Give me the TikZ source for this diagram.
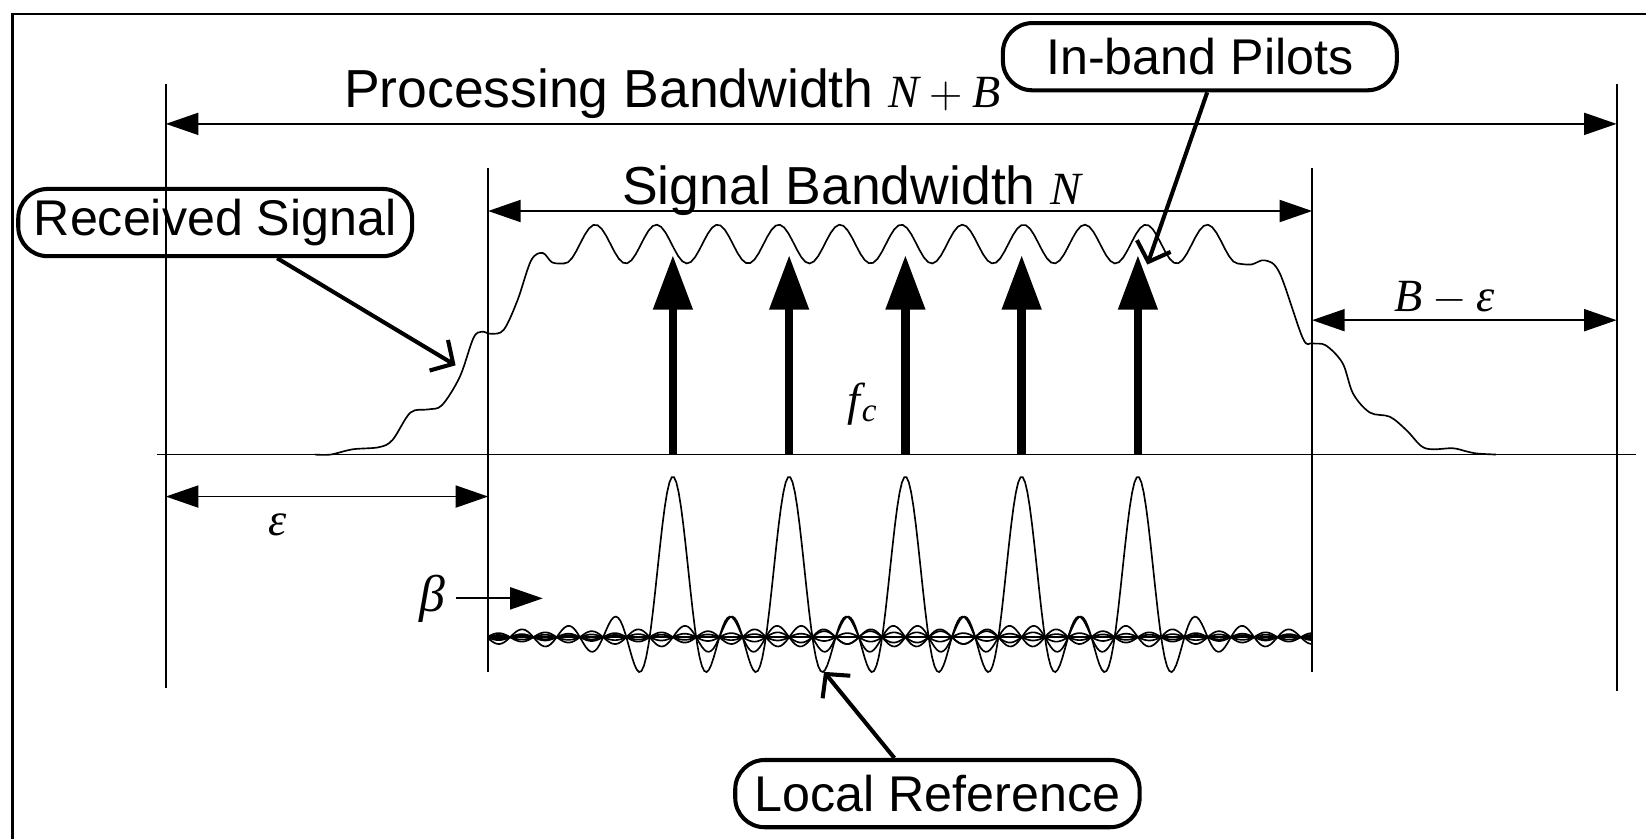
\documentclass[tikz,border=0pt]{standalone}
\usepackage{fontspec}
\setmainfont{Liberation Sans}
\newfontfamily\symfont{Liberation Serif}
\newcommand{\mv}[1]{{\symfont\itshape\fontsize{12.5}{15}\selectfont #1}}
\newcommand{\opsp}{\kern2.6pt}
\usetikzlibrary{calc, positioning, arrows.meta}
\tikzset{
  frameline/.style={line width=0.6pt},
  guide/.style={line width=0.5pt},
  dimarrow/.style={line width=0.5pt, {Triangle[length=3.1mm, width=2.1mm]}-{Triangle[length=3.1mm, width=2.1mm]}},
  pilot/.style={line width=2.3pt, -{Triangle[length=5.2mm, width=3.6mm]}},
  spectrum/.style={line width=0.45pt},
  callout/.style={draw, line width=1.1pt, rounded corners=2.8mm, minimum height=6.4mm, minimum width=3.75cm, inner sep=0pt, font=\fontsize{13.6}{16}\selectfont},
  pointer/.style={line width=1.1pt, -{Straight Barb[length=1.6mm, width=3.4mm]}},
  bwlabel/.style={font=\fontsize{14.5}{17}\selectfont, inner sep=0pt},
}

\begin{document}
\begin{tikzpicture}[x=0.01cm, y=-0.01cm]
  \useasboundingbox (0,0) rectangle (1568,799);
  \def\fzero{641}   % first pilot
  \def\df{110.75}   % pilot spacing

  % --- FRAME ---
  \draw[frameline] (12,799) -- (12,13) -- (1568,13);

  % --- GUIDES AND AXIS ---
  \draw[guide] (158,80) -- (158,655);
  \draw[guide] (1540,80) -- (1540,658);
  \draw[guide] (465,160) -- (465,640);
  \draw[guide] (1250,160) -- (1250,640);
  \draw[guide] (150,433) -- (1558,433);
  \draw[guide] (465,607) -- (1250,607);

  % --- BANDWIDTH ARROWS ---
  \coordinate (PL) at (158,118);  \coordinate (PR) at (1540,118);
  \coordinate (SL) at (465,201);  \coordinate (SR) at (1250,201);
  \coordinate (EL) at (158,473);  \coordinate (ER) at (465,473);
  \coordinate (BL) at (1250,305); \coordinate (BR) at (1540,305);
  \draw[dimarrow] (PL) -- (PR);
  \draw[dimarrow] (SL) -- (SR);
  \draw[dimarrow] (EL) -- (ER);
  \draw[dimarrow] (BL) -- (BR);

  \node[bwlabel, anchor=base west] (proclbl) at (327,102) {Processing Bandwidth \mv{N\opsp$+$\opsp B}};
  \node[bwlabel, anchor=base west] (siglbl) at (592,195) {Signal Bandwidth \mv{N}};
  \node[bwlabel, anchor=base] (bmeps) at (1376,297) {\mv{B\opsp$-$\opsp ε}};
  \node[bwlabel] (eps) at (264,500) {\mv{ε}};
  \node[bwlabel] (fc) at (821,385) {\mv{f\kern0.5pt\raisebox{-0.3ex}{\fontsize{9}{10}\selectfont c}}};
  \node[bwlabel, font=\fontsize{14}{16}\selectfont] (beta) at (412,570) {{\symfont\itshape β}};
  \coordinate (betatip) at (517,570);
  \draw[guide, -{Triangle[length=3.1mm, width=2.1mm]}] ([xshift=0.9mm]beta.east) -- (betatip);

  % --- RECEIVED SIGNAL ---
  \draw[spectrum] plot[smooth, tension=0.55] coordinates {(300,433) (315,433) (336,428) (361,426) (374,419) (391,393) (408,390) (421,386) (438,359) (451,322) (459,316) (468,318) (480,314) (493,286) (506,248) (517,241) (526,250) (537,251)}
    -- plot[domain=537:1179, samples=160] (\x, {232.5-18.5*cos(6.1750*(\x-567))})
    -- plot[smooth, tension=0.55] coordinates {(1179,251) (1192,252) (1205,248) (1219,260) (1241,322) (1250,327) (1263,329) (1279,346) (1289,375) (1305,393) (1324,397) (1340,410) (1354,425) (1365,428) (1384,427) (1397,430) (1407,432) (1425,433)};

  % --- PILOTS ---
  \foreach \k in {0,...,4} {
    \draw[pilot] (\fzero+\df*\k,433) -- (\fzero+\df*\k,243);
  }

  % --- LOCAL REFERENCE (sinc per pilot) ---
  \foreach \k in {0,...,4} {
    \pgfmathsetmacro\ulo{-7.95-5*\k}
    \pgfmathsetmacro\uhi{27.45-5*\k}
    \draw[spectrum] plot[domain=\ulo:\uhi, samples=355]
      ({\fzero+\df*\k+22.15*\x}, {607-153*sin(180*\x)/(3.14159*\x)});
  }

  % --- CALLOUTS ---
  \node[callout] (pilotsbox) at (1143,54) {In-band Pilots};
  \node[callout] (rxbox) at (205,212) {Received Signal};
  \node[callout, minimum width=3.85cm] (refbox) at (893,756) {Local Reference};

  \coordinate (pilottip) at (1093,252);
  \coordinate (rxtip) at (434,348);
  \coordinate (reftip) at (785,640);
  \draw[pointer] ([xshift=0.07cm]pilotsbox.south) -- (pilottip);
  \draw[pointer] ([xshift=0.59cm]rxbox.south) -- (rxtip);
  \draw[pointer] ([xshift=-0.41cm]refbox.north) -- (reftip);

\end{tikzpicture}
\end{document}
